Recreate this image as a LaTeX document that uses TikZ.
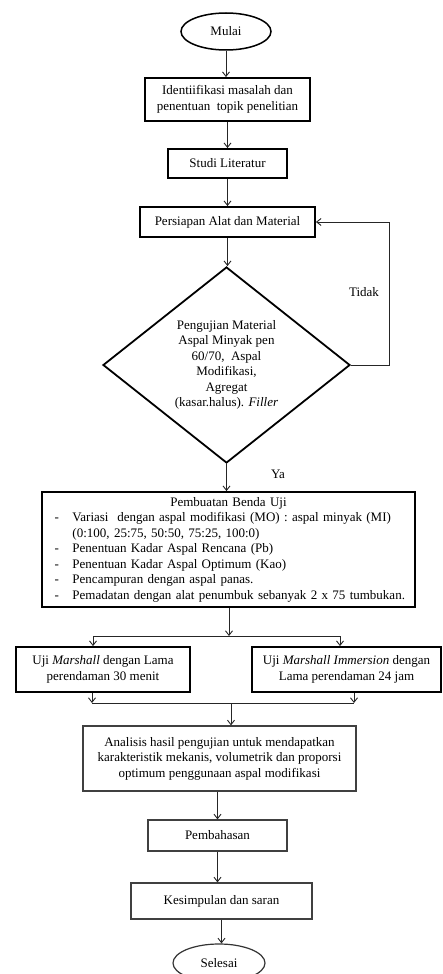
\documentclass[tikz,border=0pt]{standalone}
\usepackage{fontspec}
\setmainfont{Liberation Serif}
\usetikzlibrary{arrows.meta,shapes.geometric,calc}
\begin{document}
\begin{tikzpicture}[x=1pt,y=-1pt,
  every node/.style={font=\fontsize{13}{15.5}\selectfont},
  thickbox/.style={draw=black,line width=1.8pt,rectangle,inner sep=0pt,align=center},
  thinbox/.style={draw=black!75,line width=1.2pt,rectangle,inner sep=0pt,align=center},
  oval/.style={draw=black,line width=1.5pt,ellipse,inner sep=0pt},
  arr/.style={draw=black!85,line width=0.9pt,-{Straight Barb[length=4.5pt,width=7pt]}},
  ln/.style={draw=black!85,line width=0.9pt},
  lbl/.style={inner sep=0pt}]
\useasboundingbox (0,0) rectangle (443,974);

\node[oval,minimum width=90,minimum height=37] (mulai) at (226,31.5) {Mulai};
\node[thickbox,minimum width=165,minimum height=43] (idn) at (227.5,99.5)
  {Identiifikasi masalah dan\\penentuan\ \ topik penelitian};
\node[thickbox,minimum width=119,minimum height=29] (studi) at (227.5,163.5) {Studi Literatur};
\node[thickbox,minimum width=175,minimum height=30] (pers) at (227.5,222) {Persiapan Alat dan Material};
\node[diamond,draw=black,line width=1.8pt,inner sep=0pt,minimum width=247,minimum height=196,align=center] (dia) at (226.5,365)
  {Pengujian Material\\Aspal Minyak pen\\60/70,\ \ Aspal\\Modifikasi,\\Agregat\\(kasar.halus). \textit{Filler}};
\node[thickbox,minimum width=373,minimum height=115,text width=360,inner xsep=6.5pt,align=left] (benda) at (228.5,549.5)
  {\hfil Pembuatan Benda Uji\hfil\\
   \hspace*{6pt}\makebox[18pt][l]{-}Variasi\ \ dengan aspal modifikasi (MO) : aspal minyak (MI)\\
   \hspace*{24pt}(0:100, 25:75, 50:50, 75:25, 100:0)\\
   \hspace*{6pt}\makebox[18pt][l]{-}Penentuan Kadar Aspal Rencana (Pb)\\
   \hspace*{6pt}\makebox[18pt][l]{-}Penentuan Kadar Aspal Optimum (Kao)\\
   \hspace*{6pt}\makebox[18pt][l]{-}Pencampuran dengan aspal panas.\\
   \hspace*{6pt}\makebox[18pt][l]{-}Pemadatan dengan alat penumbuk sebanyak 2 x 75 tumbukan.};
\node[thickbox,minimum width=174,minimum height=45] (mar1) at (103,669.5)
  {Uji \textit{Marshall} dengan Lama\\perendaman 30 menit};
\node[thickbox,minimum width=189,minimum height=45] (mar2) at (346.5,669.5)
  {Uji \textit{Marshall Immersion} dengan\\Lama perendaman 24 jam};
\node[thinbox,minimum width=273,minimum height=65] (anal) at (219.5,758.5)
  {Analisis hasil pengujian untuk mendapatkan\\karakteristik mekanis, volumetrik dan proporsi\\optimum penggunaan aspal modifikasi};
\node[thinbox,minimum width=139,minimum height=31] (bahas) at (217.5,835.5) {Pembahasan};
\node[thinbox,minimum width=181,minimum height=36] (kes) at (221.5,901) {Kesimpulan dan saran};
\node[oval,draw=black!80,line width=1.2pt,minimum width=92,minimum height=38] (sel) at (219,963) {Selesai};

\node[lbl] (tidak) at (364,292) {Tidak};
\node[lbl] (ya) at (278,474) {Ya};

\coordinate (fbc) at (389,222);
\coordinate (sp) at (229,636);
\coordinate (sL) at (93,636);
\coordinate (sR) at (340,636);
\coordinate (mL) at (92,703);
\coordinate (mR) at (354,703);
\coordinate (mc) at (231,703);

\draw[arr] (mulai.south) -- (mulai.south |- idn.north);
\draw[arr] (idn.south) -- (idn.south |- studi.north);
\draw[arr] (studi.south) -- (studi.south |- pers.north);
\draw[arr] (pers.south) -- (pers.south |- dia.north);
\draw[arr] (dia.east) -| (fbc) -- (pers.east);
\draw[arr] (dia.south) -- (dia.south |- benda.north);
\draw[arr] (benda.south -| sp) -- (sp);
\draw[ln] (sL) -- (sR);
\draw[arr] (sL) -- (sL |- mar1.north);
\draw[arr] (sR) -- (sR |- mar2.north);
\draw[arr] (mar1.south -| mL) -- (mL);
\draw[arr] (mar2.south -| mR) -- (mR);
\draw[ln] (mL) -- (mR);
\draw[arr] (mc) -- (mc |- anal.north);
\draw[arr] (bahas.north |- anal.south) -- (bahas.north);
\draw[arr] (bahas.south) -- (bahas.south |- kes.north);
\draw[arr] (kes.south) -- (kes.south |- sel.north);
\end{tikzpicture}
\end{document}
